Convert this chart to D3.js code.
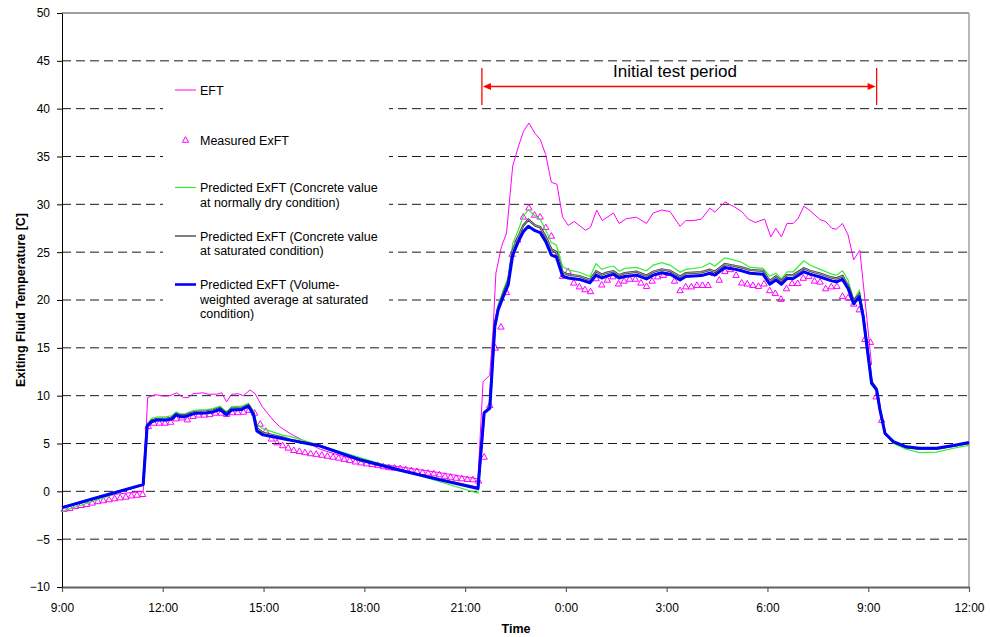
<!DOCTYPE html>
<html>
<head>
<meta charset="utf-8">
<script src="https://cdn.jsdelivr.net/npm/d3@7"></script>
<style>
  body { margin: 0; background: #fff; }
  svg { display: block; font-family: "Liberation Sans", Arial, sans-serif; }
</style>
</head>
<body>
<svg id="chart" width="990" height="637"></svg>
<script>
// ---- data (times are minutes elapsed since 9:00 on the first day) ----
const predTime = [0, 68, 145, 152, 160, 169, 187, 196, 204, 211, 220, 229, 238, 258, 270, 282, 294, 303, 321, 333,
  342, 348, 359, 395, 407, 461, 532, 568, 604, 675, 743, 754, 764, 773, 779, 788, 797, 805, 815, 824,
  833, 845, 854, 864, 874, 883, 894, 904, 924, 943, 954, 964, 973, 985, 995, 1005, 1026, 1044, 1056, 1071,
  1086, 1104, 1114, 1142, 1157, 1166, 1184, 1199, 1214, 1229, 1252, 1264, 1275, 1285, 1295, 1306, 1325, 1336, 1354, 1375,
  1383, 1394, 1404, 1414, 1424, 1431, 1440, 1446, 1455, 1461, 1470, 1485, 1508, 1532, 1562, 1592, 1620];

// Predicted ExFT, volume-weighted average at saturated condition
const predVolWeighted = [-1.7, -0.57, 0.7, 6.8, 7.27, 7.45, 7.45, 7.55, 8.0, 7.8, 7.8, 8.0, 8.15, 8.2, 8.3, 8.55, 8.0, 8.5, 8.56, 8.9,
  8.0, 6.3, 5.9, 5.5, 5.35, 4.73, 3.3, 2.75, 2.2, 1.2, 0.3, 8.2, 8.67, 17.2, 18.95, 20.35, 21.6, 24.7, 26.1, 27.15,
  27.7, 27.25, 27.05, 26.1, 24.7, 24.5, 22.5, 22.3, 22.15, 21.8, 22.6, 22.3, 22.5, 22.7, 22.3, 22.45, 22.6, 22.2, 22.6, 22.85,
  22.7, 22.1, 22.45, 22.55, 22.8, 22.6, 23.4, 23.25, 23.05, 22.8, 22.7, 21.65, 22.1, 21.65, 22.25, 22.25, 22.95, 22.7, 22.4, 22.0,
  21.9, 22.15, 21.2, 19.6, 20.35, 18.25, 14.1, 11.3, 10.6, 8.5, 6.05, 5.2, 4.65, 4.5, 4.5, 4.8, 5.1];

// Predicted ExFT, concrete value at saturated condition
const predSaturated = [-1.7, -0.57, 0.7, 6.9, 7.4, 7.55, 7.6, 7.7, 8.1, 7.95, 7.95, 8.15, 8.3, 8.35, 8.45, 8.7, 8.15, 8.65, 8.7, 9.0,
  8.2, 6.6, 6.1, 5.6, 5.4, 4.75, 3.3, 2.75, 2.22, 1.25, 0.35, 8.25, 8.75, 17.4, 19.2, 20.6, 22.0, 25.2, 26.6, 27.8,
  28.4, 27.8, 27.6, 26.6, 25.3, 25.0, 22.9, 22.65, 22.5, 22.1, 23.0, 22.65, 22.85, 23.0, 22.6, 22.8, 22.95, 22.55, 22.95, 23.2,
  23.05, 22.45, 22.8, 22.9, 23.15, 22.95, 23.75, 23.6, 23.4, 23.15, 23.05, 22.0, 22.45, 22.0, 22.6, 22.6, 23.3, 23.05, 22.75, 22.35,
  22.25, 22.5, 21.5, 19.9, 20.6, 18.4, 14.2, 11.4, 10.65, 8.55, 6.1, 5.15, 4.6, 4.45, 4.45, 4.75, 5.05];

// Predicted ExFT, concrete value at normally dry condition
const predDry = [-2.1, -0.8, 0.7, 7.0, 7.6, 7.75, 7.8, 7.9, 8.3, 8.1, 8.1, 8.35, 8.5, 8.55, 8.65, 8.9, 8.3, 8.85, 8.9, 9.2,
  8.4, 7.0, 6.55, 5.85, 5.75, 4.8, 3.53, 2.9, 2.27, 1.0, -0.2, 8.3, 8.85, 17.6, 19.5, 21.0, 22.4, 25.9, 27.3, 28.8,
  29.4, 28.8, 28.45, 27.3, 26.0, 25.75, 23.5, 23.15, 22.9, 22.45, 23.8, 23.2, 23.4, 23.55, 23.0, 23.3, 23.4, 23.05, 23.65, 23.9,
  23.65, 22.9, 23.2, 23.4, 23.85, 23.55, 24.4, 24.2, 23.95, 23.4, 23.3, 22.5, 22.8, 22.2, 22.95, 22.95, 24.1, 23.65, 23.2, 22.7,
  22.6, 23.05, 22.1, 20.0, 21.0, 18.6, 14.3, 11.6, 10.8, 8.6, 6.1, 5.0, 4.4, 4.05, 4.1, 4.5, 4.8];

// Entering fluid temperature
const eftTime = [0, 23, 50, 77, 104, 145, 153, 166, 184, 193, 205, 217, 226, 234, 252, 261, 276, 285, 294, 303,
  315, 324, 336, 345, 357, 377, 389, 407, 425, 461, 496, 532, 568, 604, 639, 675, 711, 743, 752, 764,
  770, 775, 785, 794, 805, 815, 824, 834, 845, 854, 864, 874, 884, 894, 904, 915, 935, 944, 955, 965,
  985, 995, 1008, 1026, 1044, 1056, 1071, 1086, 1104, 1114, 1127, 1142, 1157, 1166, 1184, 1199, 1214, 1226, 1238, 1255,
  1266, 1275, 1285, 1295, 1306, 1315, 1325, 1336, 1354, 1364, 1375, 1383, 1394, 1404, 1414, 1425, 1436, 1446];
const eftValue = [-1.7, -1.3, -0.85, -0.5, -0.25, 0.0, 9.8, 10.1, 9.95, 10.0, 10.3, 9.8, 9.8, 10.2, 10.3, 10.15, 10.15, 10.3, 9.35, 10.15,
  10.2, 10.0, 10.6, 10.2, 8.9, 7.45, 6.75, 6.05, 5.5, 4.4, 3.75, 3.25, 2.85, 2.55, 2.25, 1.95, 1.6, 1.3, 11.45, 12.15,
  16.9, 22.8, 25.6, 27.0, 34.0, 36.0, 37.6, 38.5, 37.4, 36.8, 35.2, 32.3, 32.1, 28.7, 27.8, 28.2, 27.3, 27.6, 29.4, 28.3,
  29.1, 28.0, 28.5, 28.65, 28.0, 29.1, 29.4, 29.25, 27.7, 28.3, 28.3, 28.45, 29.6, 29.2, 30.25, 29.8, 29.25, 28.45, 28.1, 28.45,
  26.6, 27.5, 26.6, 28.0, 28.0, 28.55, 29.8, 29.35, 28.4, 28.2, 27.5, 27.4, 28.0, 26.8, 24.2, 25.2, 19.0, 13.2];

// Measured exiting fluid temperature, logged every 10 minutes
const measuredStartMin = 4;
const measuredStepMin = 10;
const measuredValue = [-1.85, -1.75, -1.55, -1.45, -1.35, -1.2, -1.05, -0.95, -0.85, -0.75,
  -0.65, -0.58, -0.45, -0.38, -0.3, 6.8, 7.15, 7.15, 7.15, 7.25,
  7.6, 7.7, 7.5, 7.85, 8.0, 8.0, 8.05, 8.2, 8.2, 8.07,
  8.25, 8.25, 8.3, 8.5, 8.2, 7.05, 6.3, 5.5, 5.1, 4.8,
  4.55, 4.3, 4.2, 4.07, 3.96, 3.9, 3.8, 3.7, 3.6, 3.5,
  3.37, 3.26, 3.1, 3.0, 2.9, 2.84, 2.74, 2.6, 2.5, 2.45,
  2.4, 2.3, 2.2, 2.1, 2.0, 1.93, 1.86, 1.76, 1.6, 1.5,
  1.4, 1.34, 1.27, 1.24, 1.1, 3.6, 9.0, 15.0, 17.2, 20.8,
  24.8, 26.3, 28.7, 29.65, 28.9, 28.7, 27.6, 26.7, 24.7, 22.5,
  23.0, 21.8, 21.4, 21.1, 20.9, 22.25, 21.6, 22.1, 22.45, 21.7,
  22.0, 22.2, 22.2, 21.8, 21.45, 22.0, 22.45, 22.6, 22.8, 22.0,
  21.0, 21.4, 21.4, 21.55, 21.55, 21.55, 22.8, 22.1, 23.0, 23.2,
  22.6, 21.8, 21.7, 21.55, 21.45, 21.7, 21.0, 20.7, 20.1, 21.2,
  21.75, 21.75, 22.3, 22.5, 22.0, 21.9, 21.2, 21.4, 21.45, 20.4,
  20.25, 19.6, 19.0, 15.9, 15.6, 9.9, 7.45];

const yTicks = [-10, -5, 0, 5, 10, 15, 20, 25, 30, 35, 40, 45, 50];
const testPeriod = [750, 1455];           // 21:30 to 9:15 next morning
const testLabel = "Initial test period";

const legendItems = [
  { key: "eft", lines: ["EFT"] },
  { key: "meas", lines: ["Measured ExFT"] },
  { key: "dry", lines: ["Predicted ExFT (Concrete value", "at normally dry condition)"] },
  { key: "sat", lines: ["Predicted ExFT (Concrete value", "at saturated condition)"] },
  { key: "vol", lines: ["Predicted ExFT (Volume-", "weighted average at saturated", "condition)"] }
];

// ---- layout ----
const svg = d3.select("#chart");
const plot = { left: 62, right: 969, top: 13, bottom: 587 };
const t0 = new Date(2000, 0, 1, 9, 0);
const at = m => new Date(t0.getTime() + m * 60000);

const x = d3.scaleTime().domain([at(0), at(1620)]).range([plot.left, plot.right]);
const y = d3.scaleLinear().domain([-10, 50]).range([plot.bottom, plot.top]);

const MAGENTA = "#ff00ff", GREEN = "#33ee33", BLUE = "#0000ff";

// dashed horizontal gridlines
svg.append("g").selectAll("line")
  .data(yTicks.filter(v => v > -10 && v < 50))
  .join("line")
  .attr("x1", plot.left).attr("x2", plot.right)
  .attr("y1", d => y(d)).attr("y2", d => y(d))
  .attr("stroke", "#1a1a1a").attr("stroke-width", 1)
  .attr("stroke-dasharray", "9,5");

// plot frame (top and right edges)
svg.append("line").attr("x1", plot.left).attr("x2", plot.right)
  .attr("y1", y(50)).attr("y2", y(50)).attr("stroke", "#a0a0a0").attr("stroke-width", 2);
svg.append("line").attr("x1", plot.right).attr("x2", plot.right)
  .attr("y1", y(50)).attr("y2", y(-10)).attr("stroke", "#a0a0a0").attr("stroke-width", 1.5);

// axes
const xAxis = d3.axisBottom(x)
  .ticks(d3.timeHour.every(3))
  .tickFormat(d3.timeFormat("%-H:%M"))
  .tickSize(5).tickSizeOuter(0).tickPadding(11);
const gx = svg.append("g").attr("transform", `translate(0,${plot.bottom})`).call(xAxis);
gx.select(".domain").attr("stroke", "#606060").attr("stroke-width", 2);
gx.selectAll(".tick line").attr("stroke", "#606060").attr("stroke-width", 1.2);
gx.selectAll("text").attr("font-size", 12).attr("fill", "#000").attr("font-family", "Liberation Sans, Arial, sans-serif");

const yAxis = d3.axisLeft(y).tickValues(yTicks).tickSize(5).tickSizeOuter(0).tickPadding(7);
const gy = svg.append("g").attr("transform", `translate(${plot.left},0)`).call(yAxis);
gy.select(".domain").attr("stroke", "#000").attr("stroke-width", 1);
gy.selectAll(".tick line").attr("stroke", "#000");
gy.selectAll("text").attr("font-size", 12).attr("fill", "#000").attr("font-family", "Liberation Sans, Arial, sans-serif");

// axis titles
svg.append("text").attr("x", (plot.left + plot.right) / 2 + 0.5).attr("y", 633)
  .attr("text-anchor", "middle").attr("font-size", 12.5).attr("font-weight", "bold").text("Time");
svg.append("text").attr("transform", `translate(24.5,${(plot.top + plot.bottom) / 2}) rotate(-90)`)
  .attr("text-anchor", "middle").attr("font-size", 12.5).attr("font-weight", "bold")
  .text("Exiting Fluid Temperature [C]");

// legend panel (white background hides the gridlines behind it)
const legend = svg.append("g");
legend.append("rect").attr("x", 163).attr("y", 70).attr("width", 226).attr("height", 260).attr("fill", "#fff");

// series
const line = d3.line().x(d => x(at(d[0]))).y(d => y(d[1]));
const zip = (t, v) => t.map((m, i) => [m, v[i]]);

svg.append("path").datum(zip(eftTime, eftValue)).attr("d", line)
  .attr("fill", "none").attr("stroke", MAGENTA).attr("stroke-width", 1);

const triPath = "M0,-3.3L3.2,2.3L-3.2,2.3Z";
svg.append("g").selectAll("path")
  .data(measuredValue.map((v, i) => [measuredStartMin + i * measuredStepMin, v]))
  .join("path")
  .attr("transform", d => `translate(${x(at(d[0]))},${y(d[1])})`)
  .attr("d", triPath)
  .attr("fill", "none").attr("stroke", MAGENTA).attr("stroke-width", 1);

svg.append("path").datum(zip(predTime, predDry)).attr("d", line)
  .attr("fill", "none").attr("stroke", GREEN).attr("stroke-width", 1.2);

const satData = zip(predTime, predSaturated);
svg.append("path").datum(satData).attr("d", line)
  .attr("fill", "none").attr("stroke", "#404040").attr("stroke-width", 2.4);
svg.append("path").datum(satData).attr("d", line)
  .attr("fill", "none").attr("stroke", "#b8b8b8").attr("stroke-width", 0.8);

svg.append("path").datum(zip(predTime, predVolWeighted)).attr("d", line)
  .attr("fill", "none").attr("stroke", BLUE).attr("stroke-width", 3).attr("stroke-linejoin", "round");

// legend entries
const legendY = { eft: 90, meas: 140, dry: 187.5, sat: 236, vol: 284.5 };
const lineSpacing = { dry: 15, sat: 14.5, vol: 14.5 };
legendItems.forEach(item => {
  const cy = legendY[item.key];
  if (item.key === "meas") {
    legend.append("path").attr("d", triPath).attr("transform", `translate(185.5,${cy})`)
      .attr("fill", "none").attr("stroke", MAGENTA).attr("stroke-width", 1);
  } else {
    const style = {
      eft: [MAGENTA, 1], dry: [GREEN, 1.2], sat: ["#000", 1], vol: [BLUE, 2.6]
    }[item.key];
    legend.append("line").attr("x1", 175).attr("x2", 196).attr("y1", cy).attr("y2", cy)
      .attr("stroke", style[0]).attr("stroke-width", style[1]);
  }
  const txt = legend.append("text").attr("font-size", 12.5).attr("fill", "#000");
  item.lines.forEach((s, i) => {
    txt.append("tspan").attr("x", 200).attr("y", cy + 4.5 + i * (lineSpacing[item.key] || 0)).text(s);
  });
});

// test period annotation
const ann = svg.append("g");
const xa = x(at(testPeriod[0])), xb = x(at(testPeriod[1]));
const arrowY = 86.5;
ann.append("line").attr("x1", xa).attr("x2", xa).attr("y1", 68).attr("y2", 105)
  .attr("stroke", "#ff0000").attr("stroke-width", 1.3);
ann.append("line").attr("x1", xb).attr("x2", xb).attr("y1", 68).attr("y2", 105)
  .attr("stroke", "#ff0000").attr("stroke-width", 1.3);
ann.append("line").attr("x1", xa + 6).attr("x2", xb - 6).attr("y1", arrowY).attr("y2", arrowY)
  .attr("stroke", "#ff0000").attr("stroke-width", 1.3);
ann.append("path").attr("d", `M${xa + 1},${arrowY}L${xa + 9},${arrowY - 3.5}L${xa + 9},${arrowY + 3.5}Z`).attr("fill", "#ff0000");
ann.append("path").attr("d", `M${xb - 1},${arrowY}L${xb - 9},${arrowY - 3.5}L${xb - 9},${arrowY + 3.5}Z`).attr("fill", "#ff0000");
ann.append("text").attr("x", 675).attr("y", 76.5).attr("text-anchor", "middle")
  .attr("font-size", 17).attr("fill", "#000").text(testLabel);
</script>
</body>
</html>
